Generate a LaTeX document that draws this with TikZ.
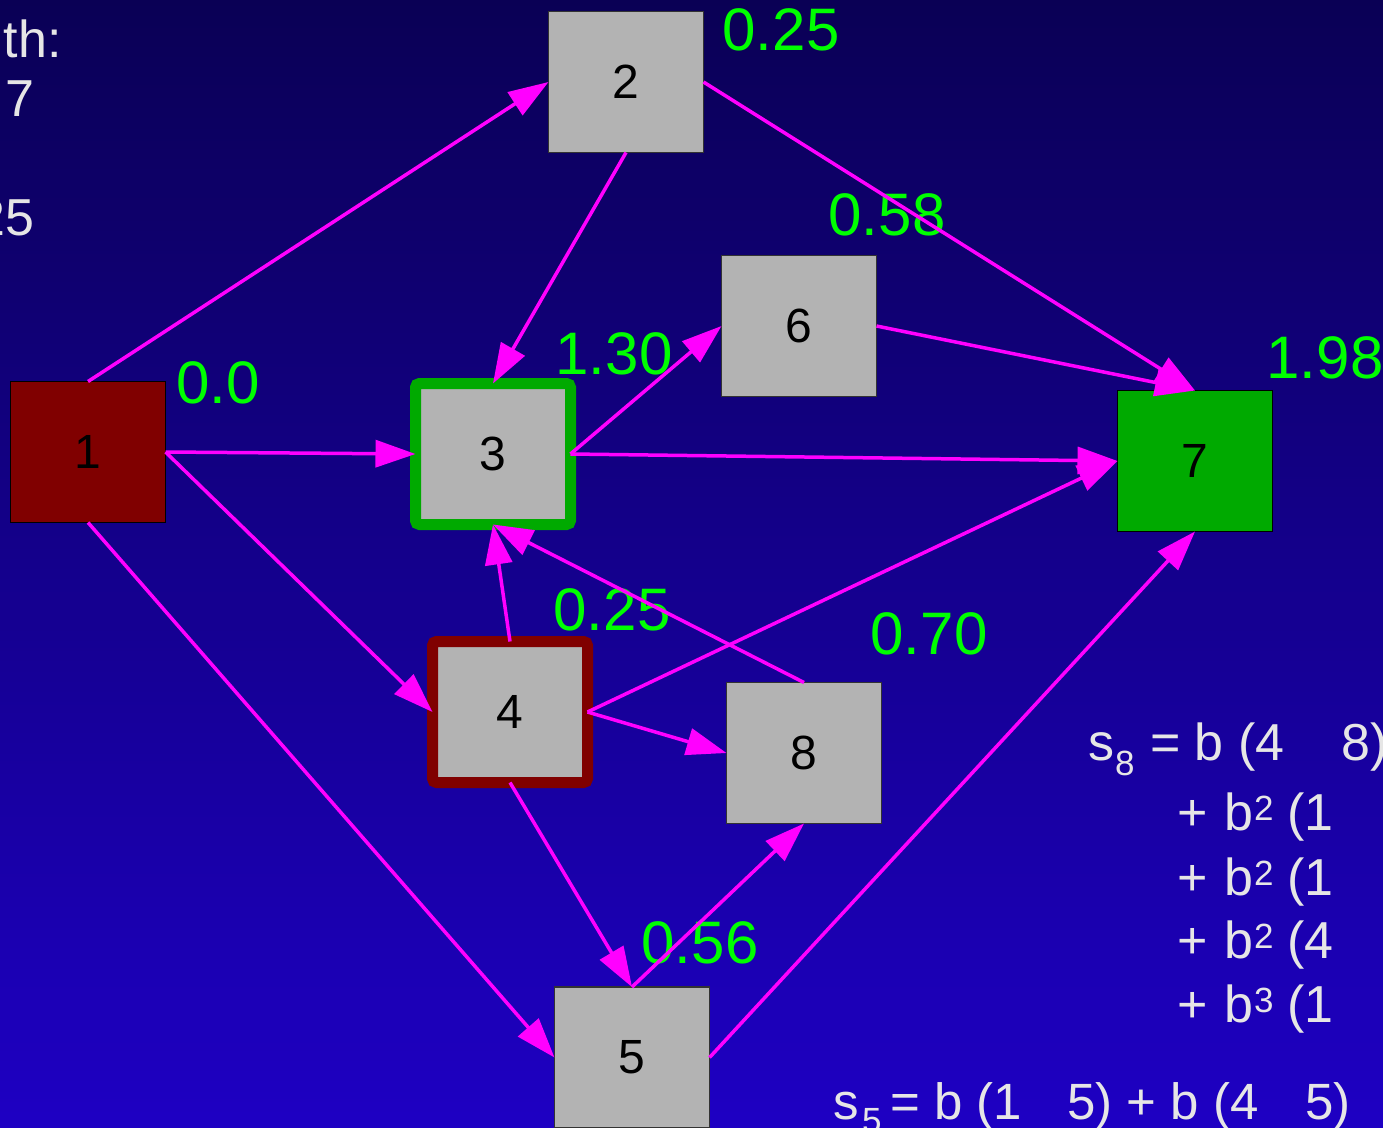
\documentclass[tikz,border=0pt]{standalone}
\usepackage{fontspec}
\setmainfont{Liberation Sans}
\usetikzlibrary{arrows.meta}
\definecolor{bgtop}{RGB}{10,0,85}
\definecolor{bgbot}{RGB}{30,0,195}
\definecolor{nodegray}{RGB}{179,179,179}
\definecolor{darkred}{RGB}{128,0,0}
\definecolor{nodegreen}{RGB}{0,170,0}
\definecolor{lab}{RGB}{0,255,0}
\definecolor{edgec}{RGB}{255,0,255}
\definecolor{wtext}{RGB}{230,230,230}
\begin{document}
\begin{tikzpicture}[x=1pt,y=-1pt,
  box/.style={draw=black!80, line width=1.2pt, fill=nodegray, minimum width=155pt,
    minimum height=141pt, inner sep=0pt, outer sep=0pt,
    font=\fontsize{48}{48}\selectfont, text=black},
  greenbox/.style={box, draw=nodegreen, line width=11pt, rounded corners=4pt},
  redbox/.style={box, draw=darkred, line width=11pt, rounded corners=4pt},
  lbl/.style={text=lab, font=\fontsize{60}{60}\selectfont, inner sep=0pt},
  wf/.style={text=wtext, font=\fontsize{52}{52}\selectfont, inner sep=0pt, anchor=base west},
  wfl/.style={wf, font=\fontsize{51}{51}\selectfont},
  wfs/.style={wf, font=\fontsize{35}{35}\selectfont},
  edge/.style={draw=edgec, line width=3.5pt, -{Triangle[length=40pt,width=27pt]}}
]
\shade[top color=bgtop, bottom color=bgbot] (0,0) rectangle (1383,1127);
\useasboundingbox (0,0) rectangle (1383,1127);

% nodes
\node[box, fill=darkred, draw=black] (n1) at (88,452) {1};
\node[box] (n2) at (626,82) {2};
\node[greenbox] (n3) at (493,454) {3};
\node[redbox] (n4) at (510,712) {4};
\node[box] (n5) at (632,1057.5) {5};
\node[box] (n6) at (799,326) {6};
\node[box, fill=nodegreen, draw=black] (n7) at (1195,461) {7};
\node[box] (n8) at (804,753) {8};

% green labels
\node[lbl] (l2) at (781,30) {0.25};
\node[lbl] (l6) at (887,215) {0.58};
\node[lbl] (l3) at (614,354) {1.30};
\node[lbl] (l1) at (218,383) {0.0};
\node[lbl] (l7) at (1325,358) {1.98};
\node[lbl] (l4) at (612,610) {0.25};
\node[lbl] (l8) at (929,634) {0.70};
\node[lbl] (l5) at (700,943) {0.56};

% white text, top left
\node[wf, anchor=base east] (t1) at (62,57) {th:};
\node[wf] (t2) at (5,116) {7};
\node[wf, anchor=base east] (t3) at (35,235) {25};

% formula s8
\node[wf] (f1a) at (1088,760) {s};
\node[wfs] (f1b) at (1115,775) {8};
\node[wf] (f1c) at (1150,760) {= b (4};
\node[wf] (f1d) at (1341,760) {8)};
\foreach \yy/\ee/\dd [count=\i] in {830/2/1,895/2/1,958/2/4,1022/3/1}{
  \node[wf] (fp\i) at (1177,\yy) {+};
  \node[wf] (fb\i) at (1224,\yy) {b};
  \node[wfs] (fe\i) at (1254,\yy-10) {\ee};
  \node[wf] (fq\i) at (1287,\yy) {(\dd};
}
% formula s5
\node[wfl] (g1) at (833,1119) {s};
\node[wfs] (g2) at (862,1132) {5};
\node[wfl] (g3) at (890,1119) {= b (1};
\node[wfl] (g4) at (1067,1119) {5) + b (4};
\node[wfl] (g5) at (1305,1119) {5)};

% edges
\draw[edge] (n1.north) -- (n2.west);
\draw[edge] (n1.east) -- (n3.west);
\draw[edge] (n1.east) -- (n4.west);
\draw[edge] (n1.south) -- (n5.west);
\draw[edge] (n2.south) -- (n3.north);
\draw[edge] (n2.east) -- (n7.north);
\draw[edge] (n3.east) -- (n6.west);
\draw[edge] (n3.east) -- (n7.west);
\draw[edge] (n4.north) -- (n3.south);
\draw[edge] (n8.north) -- (n3.south);
\draw[edge] (n4.east) -- (n7.west);
\draw[edge] (n4.east) -- (n8.west);
\draw[edge] (n4.south) -- (n5.north);
\draw[edge] (n5.north) -- (n8.south);
\draw[edge] (n5.east) -- (n7.south);
\draw[edge] (n6.east) -- (n7.north);
\end{tikzpicture}
\end{document}
